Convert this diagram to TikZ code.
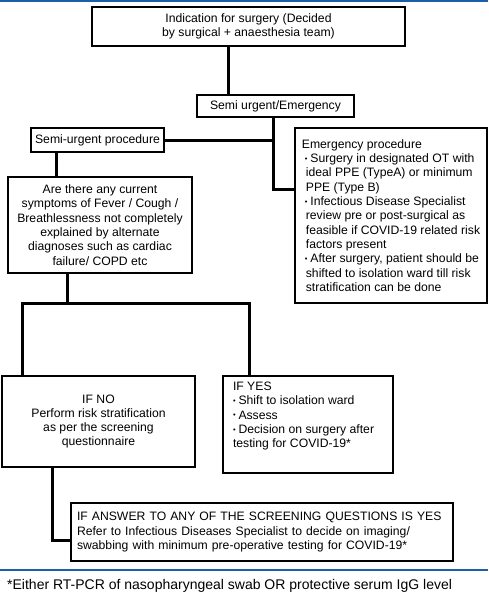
\documentclass[tikz,border=0pt]{standalone}
\usepackage{fontspec}
\setmainfont{Liberation Sans}
\definecolor{rulecol}{RGB}{25,95,170}
\newcommand\bul{\makebox[5.5pt][l]{\raisebox{1.2pt}{\fontsize{7.5}{7.5}\selectfont •}}}
\newcommand\ind{\hspace*{3pt}}
\newcommand\cont{\hspace*{4pt}}
\tikzset{
  box/.style={draw=black, line width=1.6pt, inner sep=0pt, font=\fontsize{12.2}{14.3}\selectfont},
  conn/.style={draw=black, line width=3pt},
  rulel/.style={draw=rulecol, line width=1.6pt},
}
\begin{document}
\begin{tikzpicture}[x=1pt,y=-1pt]
\useasboundingbox (0,0) rectangle (488,592);
\fill[white] (0,0) rectangle (488,592);
% rules
\draw[rulel] (0,1) -- (488,1);
\draw[rulel] (0,570) -- (488,570);
% boxes
\node[box, minimum width=313pt, minimum height=39pt, align=center] (b1) at (248.5,26.5)
  {Indication for surgery (Decided\\by surgical + anaesthesia team)};
\node[box, minimum width=157pt, minimum height=22pt] (b2) at (275.5,106) {Semi urgent/Emergency};
\node[box, minimum width=133pt, minimum height=24pt] (sp) at (97.5,140) {Semi-urgent procedure};
\node[box, minimum width=192pt, minimum height=175pt, align=left] (em) at (391,215.5)
  {Emergency procedure\\
   \ind\bul Surgery in designated OT with\\
   \cont ideal PPE (TypeA) or minimum\\
   \cont PPE (Type B)\\
   \ind\bul Infectious Disease Specialist\\
   \cont review pre or post-surgical as\\
   \cont feasible if COVID-19 related risk\\
   \cont factors present\\
   \ind\bul After surgery, patient should be\\
   \cont shifted to isolation ward till risk\\
   \cont stratification can be done};
\node[box, minimum width=184pt, minimum height=96pt, align=center] (q) at (100,225)
  {Are there any current\\symptoms of Fever / Cough /\\Breathlessness not completely\\explained by alternate\\diagnoses such as cardiac\\failure/ COPD etc};
\node[box, minimum width=193pt, minimum height=91pt, align=center] (no) at (98.5,421.5)
  {IF NO\\Perform risk stratification\\as per the screening\\questionnaire};
\node[box] (yes) at (308,424.5)
  {\parbox[c][97pt][t]{170pt}{\leftskip=10pt\rightskip=0pt plus 1fil\vspace*{6pt}%
   IF YES\\
   \bul Shift to isolation ward\\
   \bul Assess\\
   \bul Decision on surgery after\\
   testing for COVID-19*}};
\node[box, text width=370pt, inner xsep=6pt, minimum height=58pt, align=left] (ans) at (262,532)
  {IF ANSWER TO ANY OF THE SCREENING QUESTIONS IS YES\\
   Refer to Infectious Diseases Specialist to decide on imaging/\\
   swabbing with minimum pre-operative testing for COVID-19*};
\node[anchor=base west, inner sep=0pt, font=\fontsize{14}{16}\selectfont] (fn) at (7,589)
  {*Either RT-PCR of nasopharyngeal swab OR protective serum IgG level};
% coordinates for connectors
\coordinate (c228) at (228,0);
\coordinate (v273) at (273,189);
\coordinate (c56) at (56,0);
\coordinate (j67) at (67,303);
\coordinate (hl) at (22,303);
\coordinate (hr) at (249,303);
\coordinate (k52) at (52,540);
% connectors
\draw[conn] (b1.south -| c228) -- (b2.north -| c228);
\draw[conn] (b2.south -| v273) -- (v273) -- (em.west |- v273);
\draw[conn] (sp.east) -- (sp.east -| v273);
\draw[conn] (sp.south -| c56) -- (q.north -| c56);
\draw[conn] (q.south -| j67) -- (j67);
\draw[conn] (no.north -| hl) -- (hl) -- (hr) -- (yes.north -| hr);
\draw[conn] (no.south -| k52) -- (k52) -- (ans.west |- k52);
\end{tikzpicture}
\end{document}
